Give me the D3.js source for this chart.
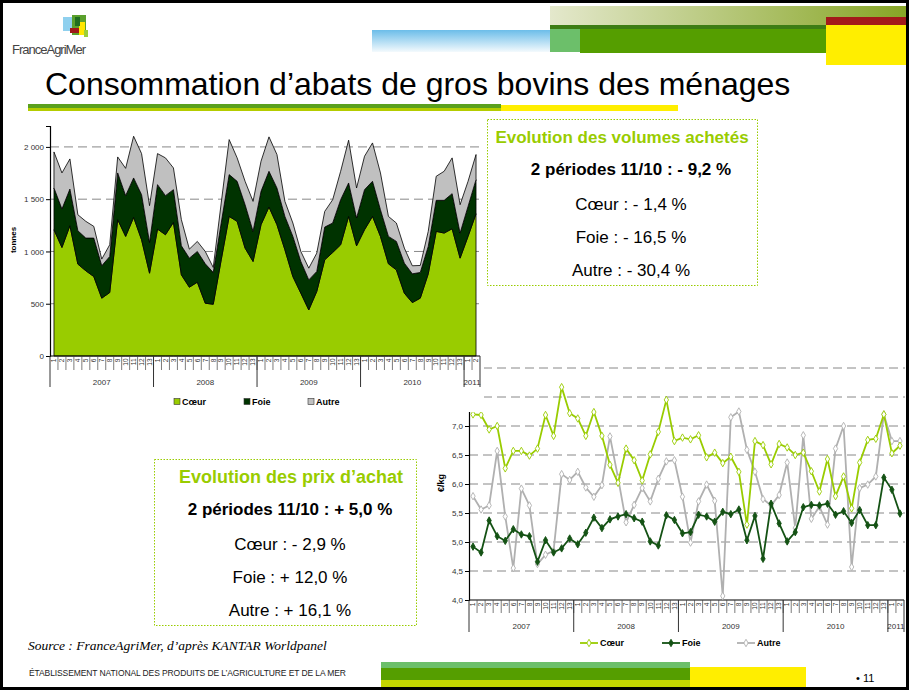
<!DOCTYPE html>
<html>
<head>
<meta charset="utf-8">
<script src="https://cdn.jsdelivr.net/npm/d3@7"></script>
<style>
  body { margin: 0; background: #fff; }
  svg { display: block; font-family: "Liberation Sans", Arial, sans-serif; }
</style>
</head>
<body>
<svg id="slide" width="909" height="690"></svg>
<script>
// Kantar periods: 13 four-week periods per year, 2 in 2011
const years = [2007, 2008, 2009, 2010, 2011];
const periodsPerYear = [13, 13, 13, 13, 2];

// volumes achetés (tonnes)
const volumeKeys = ["Cœur", "Foie", "Autre"];
const volCoeur = [1208, 1038, 1246, 879, 815, 760, 553, 607, 1304, 1144, 1326, 1112, 792,
                  1214, 1160, 1278, 776, 658, 706, 505, 495, 920, 1335, 1288, 1032, 904,
                  1256, 1425, 1256, 1016, 760, 601, 441, 617, 920, 990, 1064, 1335, 1054,
                  1208, 1335, 1144, 882, 824, 601, 511, 553, 786, 1192, 1176, 1217, 936,
                  1144, 1361];
const volFoie = [399, 368, 351, 319, 313, 368, 310, 345, 447, 390, 377, 431, 294,
                 425, 374, 313, 278, 278, 294, 377, 304, 352, 400, 383, 415, 288,
                 319, 342, 351, 319, 384, 303, 287, 191, 313, 282, 431, 320, 266,
                 383, 336, 255, 262, 272, 287, 275, 246, 262, 297, 313, 336, 240,
                 287, 326];
const volAutre = [345, 345, 288, 153, 160, 112, 64, 112, 153, 261, 399, 393, 352,
                  297, 361, 208, 250, 86, 96, 118, 48, 191, 335, 224, 224, 287,
                  288, 329, 320, 144, 128, 96, 112, 176, 150, 223, 272, 409, 287,
                  320, 367, 352, 191, 176, 144, 77, 67, 144, 230, 278, 342, 271,
                  240, 240];
const volTicks = [0, 500, 1000, 1500, 2000];

// prix d'achat (€/kg)
const prixCoeur = [7.20, 7.19, 6.94, 7.00, 6.27, 6.57, 6.57, 6.49, 6.61, 7.19, 6.83, 7.67, 7.22,
                   7.13, 6.83, 7.24, 6.83, 6.33, 6.02, 6.61, 6.41, 6.06, 6.51, 6.90, 7.45, 6.74,
                   6.80, 6.77, 6.84, 6.46, 6.54, 6.36, 6.47, 6.21, 5.30, 6.74, 6.67, 6.34, 6.69,
                   6.63, 6.50, 6.54, 6.22, 5.87, 6.43, 5.79, 6.13, 5.58, 6.37, 6.76, 6.78, 7.20,
                   6.53, 6.66];
const prixFoie = [4.92, 4.82, 5.37, 5.10, 5.02, 5.22, 5.13, 5.10, 4.66, 5.03, 4.82, 4.89, 5.06,
                  4.96, 5.16, 5.42, 5.24, 5.39, 5.44, 5.48, 5.41, 5.35, 5.01, 4.94, 5.46, 5.38,
                  5.15, 5.17, 5.47, 5.44, 5.35, 5.52, 5.48, 5.56, 5.03, 5.45, 4.71, 5.66, 5.32,
                  5.01, 5.17, 5.60, 5.64, 5.63, 5.66, 5.47, 5.53, 5.33, 5.55, 5.29, 5.29, 6.11,
                  5.90, 5.49];
const prixAutre = [5.79, 5.56, 5.63, 6.57, 5.44, 4.55, 5.92, 5.63, 4.62, 4.78, 4.85, 6.17, 6.07,
                   6.21, 5.94, 5.78, 5.98, 6.82, 6.11, 5.34, 5.64, 5.93, 5.70, 6.09, 6.39, 6.41,
                   5.78, 4.99, 5.70, 5.99, 5.71, 4.07, 7.15, 7.25, 6.59, 6.21, 5.74, 5.63, 5.81,
                   6.37, 5.24, 6.84, 5.40, 5.61, 5.30, 6.61, 7.00, 4.57, 5.93, 5.99, 6.13, 7.20,
                   6.74, 6.74];
const prixTicks = [4.0, 4.5, 5.0, 5.5, 6.0, 6.5, 7.0, 7.5, 8.0];

const volumeBox = ["Evolution des volumes achetés", "2 périodes 11/10 : - 9,2 %",
                   "Cœur : - 1,4 %", "Foie : - 16,5 %", "Autre : - 30,4 %"];
const prixBox = ["Evolution des prix d’achat", "2 périodes 11/10 : + 5,0 %",
                 "Cœur : - 2,9 %", "Foie : + 12,0 %", "Autre : + 16,1 %"];

const cGreen = "#99cc00", cDark = "#003300", cGrey = "#c0c0c0";

let periods = [];
years.forEach((y, k) => {
  for (let p = 1; p <= periodsPerYear[k]; p++) periods.push({key: y + "-" + p, year: y, p: p});
});

const svg = d3.select("#slide");
const defs = svg.append("defs");

// ---------- header ----------
let gOl = defs.append("linearGradient").attr("id", "olive");
gOl.append("stop").attr("offset", "0%").attr("stop-color", "#e4e8cc");
gOl.append("stop").attr("offset", "100%").attr("stop-color", "#86a524");
let gBl = defs.append("linearGradient").attr("id", "blue").attr("x1", 0).attr("x2", 0).attr("y1", 0).attr("y2", 1);
gBl.append("stop").attr("offset", "0%").attr("stop-color", "#6cbde9");
gBl.append("stop").attr("offset", "100%").attr("stop-color", "#f4fafd");

svg.append("rect").attr("x", 372).attr("y", 30).attr("width", 178).attr("height", 22).attr("fill", "url(#blue)");
svg.append("rect").attr("x", 550).attr("y", 6).attr("width", 359).attr("height", 20).attr("fill", "url(#olive)");
svg.append("rect").attr("x", 550).attr("y", 25).attr("width", 30).attr("height", 27).attr("fill", "#6cbf6a");
svg.append("rect").attr("x", 580).attr("y", 25).attr("width", 246).attr("height", 28).attr("fill", "#559e00");
svg.append("rect").attr("x", 550).attr("y", 25).attr("width", 276).attr("height", 4).attr("fill", "#3d7d14");
svg.append("rect").attr("x", 826).attr("y", 17).attr("width", 83).attr("height", 8).attr("fill", "#a31a1a");
svg.append("rect").attr("x", 826).attr("y", 25).attr("width", 83).attr("height", 40).attr("fill", "#ffee00");

// logo
const logo = svg.append("g");
logo.append("rect").attr("x", 63).attr("y", 17).attr("width", 10).attr("height", 14).attr("fill", "#8fd0ee");
logo.append("rect").attr("x", 72).attr("y", 15).attr("width", 14).attr("height", 20).attr("fill", "#5aa02c");
logo.append("rect").attr("x", 79).attr("y", 22).attr("width", 6).attr("height", 13).attr("fill", "#ffe600");
logo.append("rect").attr("x", 75).attr("y", 17).attr("width", 5).attr("height", 9).attr("fill", "#1f6e1f");
logo.append("rect").attr("x", 70).attr("y", 28).attr("width", 9).attr("height", 5).attr("fill", "#a01818");
logo.append("rect").attr("x", 84).attr("y", 30).attr("width", 4).attr("height", 7).attr("fill", "#9ccf3a");
svg.append("text").attr("x", 12).attr("y", 54).attr("textLength", 74)
  .style("font-size", "13px").style("fill", "#444").text("FranceAgriMer");

svg.append("text").attr("x", 45).attr("y", 95).style("font-size", "32px").style("fill", "#000")
  .text("Consommation d’abats de gros bovins des ménages");
svg.append("rect").attr("x", 28).attr("y", 104).attr("width", 473).attr("height", 7).attr("fill", "#5aa01e");
svg.append("rect").attr("x", 28).attr("y", 108).attr("width", 473).attr("height", 3).attr("fill", "#b4cc00");
svg.append("rect").attr("x", 501).attr("y", 105).attr("width", 177).attr("height", 6).attr("fill", "#ffee00");

// ---------- category axis helper ----------
function catAxis(g, x, yA, sepLen, yearLen, yearY) {
  const bw = x.bandwidth();
  const [r0, r1] = x.range();
  g.append("line").attr("x1", r0).attr("x2", r1).attr("y1", yA).attr("y2", yA)
    .attr("stroke", "#000").attr("stroke-width", 1.2);
  g.selectAll("line.sep").data(periods.slice(1)).enter().append("line")
    .attr("x1", d => x(d.key)).attr("x2", d => x(d.key))
    .attr("y1", yA).attr("y2", yA + sepLen)
    .attr("stroke", "#444").attr("stroke-width", 0.7);
  g.selectAll("text.per").data(periods).enter().append("text")
    .attr("transform", d => `translate(${x(d.key) + bw / 2},${yA + 2.5}) rotate(-90)`)
    .attr("text-anchor", "end").attr("dy", "0.35em")
    .style("font-size", "6.5px").style("fill", "#333").text(d => d.p);
  let starts = years.map(y => x(y + "-1"));
  starts.push(r1);
  g.selectAll("line.yr").data(starts).enter().append("line")
    .attr("x1", d => d).attr("x2", d => d).attr("y1", yA).attr("y2", yA + yearLen)
    .attr("stroke", "#333").attr("stroke-width", 1);
  g.selectAll("text.yr").data(years).enter().append("text")
    .attr("x", (d, k) => (starts[k] + starts[k + 1]) / 2).attr("y", yearY)
    .attr("text-anchor", "middle").style("font-size", "8px").style("fill", "#333").text(d => d);
}

// ---------- price line chart ----------
const x2 = d3.scaleBand().domain(periods.map(d => d.key)).range([469, 904]);
const y2 = d3.scaleLinear().domain([4, 8]).range([600, 368]);
const lc = svg.append("g");

lc.selectAll("line.grid").data(prixTicks.slice(1)).enter().append("line")
  .attr("x1", 469).attr("x2", 905).attr("y1", d => y2(d)).attr("y2", d => y2(d))
  .attr("stroke", "#888").attr("stroke-width", 1).attr("stroke-dasharray", "9,5");

const yAx2 = lc.append("g").attr("transform", "translate(469,0)")
  .call(d3.axisLeft(y2).tickValues(prixTicks).tickSize(4).tickFormat(d => d3.format(".1f")(d).replace(".", ",")));
yAx2.select(".domain").attr("stroke", "#000").attr("stroke-width", 1.2);
yAx2.selectAll("text").style("font-size", "8px").style("fill", "#333").attr("x", -6);

catAxis(lc, x2, 600, 13, 32, 629);

lc.append("text").attr("transform", "translate(444,483) rotate(-90)").attr("text-anchor", "middle")
  .style("font-size", "9px").style("font-weight", "bold").text("€/kg");

const priceSeries = [
  {name: "Cœur", values: prixCoeur, color: cGreen, fill: "#fff"},
  {name: "Foie", values: prixFoie, color: "#145214", fill: "#145214"},
  {name: "Autre", values: prixAutre, color: "#b0b0b0", fill: "#fff"}
];
const line2 = d3.line().x((d, k) => x2(periods[k].key) + x2.bandwidth() / 2).y(d => y2(d));
const diamond = d3.symbol().type(d3.symbolDiamond).size(16);
priceSeries.slice().reverse().forEach(s => {
  const g = lc.append("g");
  g.append("path").datum(s.values).attr("d", line2).attr("fill", "none")
    .attr("stroke", s.color).attr("stroke-width", 1.8);
  g.selectAll("path.pt").data(s.values).enter().append("path")
    .attr("d", diamond)
    .attr("transform", (d, k) => `translate(${x2(periods[k].key) + x2.bandwidth() / 2},${y2(d)})`)
    .attr("fill", s.fill).attr("stroke", s.color).attr("stroke-width", 0.9);
});

// legend (line chart)
const leg2 = [580, 662, 737];
priceSeries.forEach((s, k) => {
  const lx = leg2[k];
  lc.append("line").attr("x1", lx).attr("x2", lx + 18).attr("y1", 643).attr("y2", 643)
    .attr("stroke", s.color).attr("stroke-width", 1.8);
  lc.append("path").attr("d", diamond).attr("transform", `translate(${lx + 9},643)`)
    .attr("fill", s.fill).attr("stroke", s.color).attr("stroke-width", 0.9);
  lc.append("text").attr("x", lx + 20).attr("y", 646).style("font-size", "9px")
    .style("font-weight", "bold").text(s.name);
});

// ---------- volume stacked area chart ----------
svg.append("rect").attr("x", 0).attr("y", 113).attr("width", 484).attr("height", 299).attr("fill", "#fff");

const x1 = d3.scaleBand().domain(periods.map(d => d.key)).range([50, 480]);
const y1 = d3.scaleLinear().domain([0, 2200]).range([356, 126]);
const ac = svg.append("g");

ac.selectAll("line.grid").data(volTicks.slice(1)).enter().append("line")
  .attr("x1", 50).attr("x2", 480).attr("y1", d => y1(d)).attr("y2", d => y1(d))
  .attr("stroke", "#888").attr("stroke-width", 1).attr("stroke-dasharray", "9,5");

const rows = periods.map((p, k) => ({key: p.key, "Cœur": volCoeur[k], "Foie": volFoie[k], "Autre": volAutre[k]}));
const stacked = d3.stack().keys(volumeKeys)(rows);
const area1 = d3.area()
  .x(d => x1(d.data.key) + x1.bandwidth() / 2)
  .y0(d => y1(d[0])).y1(d => y1(d[1]));
const areaColors = [cGreen, cDark, cGrey];
ac.selectAll("path.layer").data(stacked).enter().append("path")
  .attr("d", area1).attr("fill", (d, k) => areaColors[k])
  .attr("stroke", "#000").attr("stroke-width", 0.8).attr("stroke-linejoin", "round");

const yAx1 = ac.append("g").attr("transform", "translate(50,0)")
  .call(d3.axisLeft(y1).tickValues(volTicks).tickSize(4).tickFormat(d => d3.format(",")(d).replace(",", " ")));
yAx1.select(".domain").attr("stroke", "#000").attr("stroke-width", 1.2);
yAx1.selectAll("text").style("font-size", "8px").style("fill", "#333").attr("x", -6);

catAxis(ac, x1, 356, 14, 31, 385);

ac.append("text").attr("transform", "translate(16,240) rotate(-90)").attr("text-anchor", "middle")
  .style("font-size", "8px").style("font-weight", "bold").text("tonnes");

const leg1 = [174, 244, 308];
volumeKeys.forEach((k, i) => {
  ac.append("rect").attr("x", leg1[i]).attr("y", 398.5).attr("width", 6).attr("height", 6)
    .attr("fill", areaColors[i]).attr("stroke", "#333").attr("stroke-width", 0.6);
  ac.append("text").attr("x", leg1[i] + 8).attr("y", 405).style("font-size", "9px")
    .style("font-weight", "bold").text(k);
});

// ---------- text boxes ----------
function textBox(lines, bx, by, bw, bh, cx, titleCx, baselines, titleSize) {
  const g = svg.append("g");
  g.append("rect").attr("x", bx).attr("y", by).attr("width", bw).attr("height", bh)
    .attr("fill", "#fff").attr("stroke", cGreen).attr("stroke-width", 1).attr("stroke-dasharray", "1.5,1.5");
  g.selectAll("text").data(lines).enter().append("text")
    .attr("x", (d, k) => k === 0 ? titleCx : cx).attr("y", (d, k) => baselines[k])
    .attr("text-anchor", "middle")
    .style("font-size", (d, k) => k === 0 ? titleSize : "17px")
    .style("font-weight", (d, k) => k < 2 ? "bold" : "normal")
    .style("fill", (d, k) => k === 0 ? cGreen : "#000")
    .text(d => d);
}
textBox(volumeBox, 487.5, 119.5, 270, 166, 631, 622, [143, 175, 210, 243, 276], "17px");
textBox(prixBox, 154.5, 459.5, 262, 166, 290, 291, [483, 515, 550, 583, 616], "18px");

// ---------- footer ----------
svg.append("text").attr("x", 28).attr("y", 650).style("font-family", "'Liberation Serif', 'Times New Roman', serif")
  .style("font-style", "italic").style("font-size", "13.5px").text("Source : FranceAgriMer, d’après KANTAR Worldpanel");
svg.append("text").attr("x", 29).attr("y", 676).attr("textLength", 317)
  .style("font-size", "8.5px").style("fill", "#222")
  .text("ÉTABLISSEMENT NATIONAL DES PRODUITS DE L’AGRICULTURE ET DE LA MER");
svg.append("rect").attr("x", 381).attr("y", 662).attr("width", 309).attr("height", 6).attr("fill", "#6cbf6a");
svg.append("rect").attr("x", 381).attr("y", 668).attr("width", 309).attr("height", 12).attr("fill", "#559e00");
svg.append("rect").attr("x", 381).attr("y", 680).attr("width", 309).attr("height", 10).attr("fill", "#c3d400");
svg.append("rect").attr("x", 690).attr("y", 667).attr("width", 116).attr("height", 23).attr("fill", "#ffee00");
svg.append("text").attr("x", 856).attr("y", 682).style("font-size", "11px").text("• 11");

// slide frame
svg.append("rect").attr("x", 1.5).attr("y", 1.5).attr("width", 906).attr("height", 687)
  .attr("fill", "none").attr("stroke", "#000").attr("stroke-width", 3);
</script>
</body>
</html>
